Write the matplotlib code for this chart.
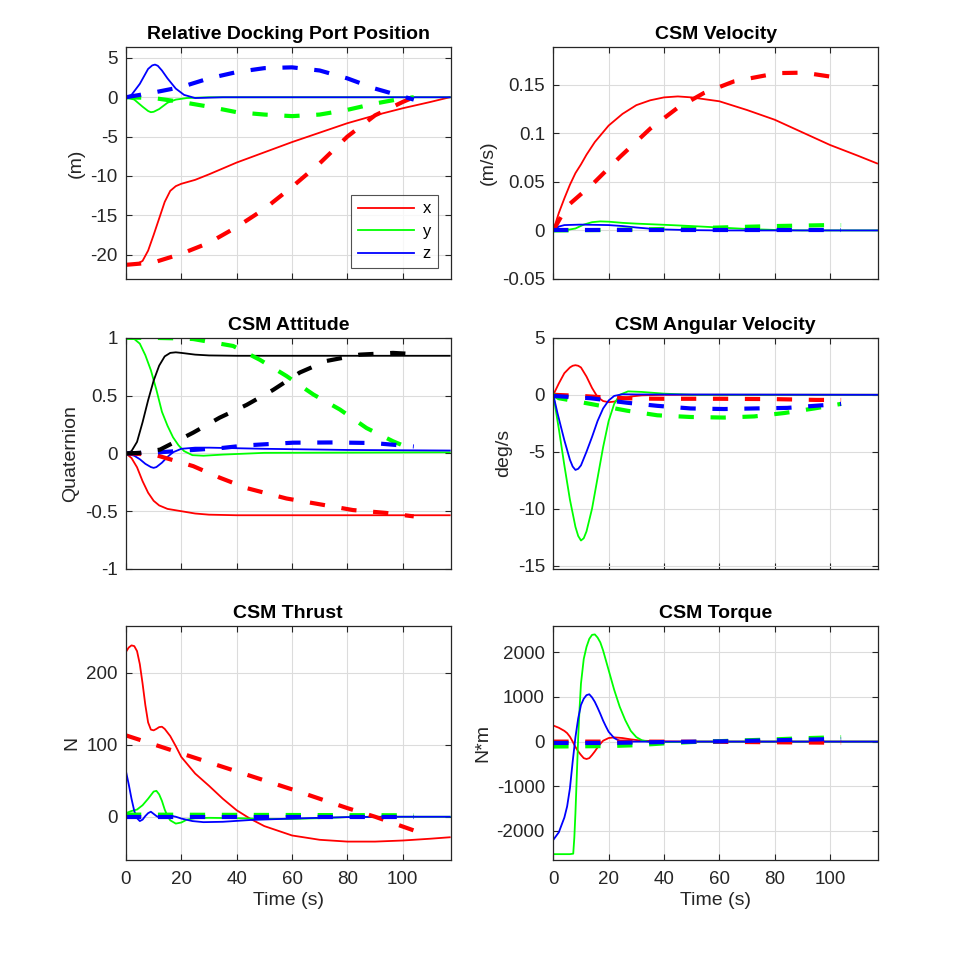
import numpy as np
import matplotlib
matplotlib.use("Agg")
import matplotlib.pyplot as plt
from matplotlib.ticker import FuncFormatter

# ---------------- data ----------------
# Relative docking port position (m)
pos_x_t = [0, 4, 6, 8, 10, 12, 14, 16, 18, 20, 25, 30, 40, 50, 60, 70, 80, 90, 100, 110, 117]
pos_x = [-21.3, -21.2, -20.8, -19.5, -17.5, -15.4, -13.3, -11.9, -11.3, -11.0, -10.5, -9.8, -8.3, -7.0, -5.7, -4.5, -3.3, -2.3, -1.4, -0.6, 0.0]
pos_y_t = [0, 3, 6, 8, 9, 10, 12, 15, 18, 22, 30, 117]
pos_y = [0, -0.3, -1.2, -1.75, -1.9, -1.85, -1.5, -0.7, -0.3, -0.1, 0, 0]
pos_z_t = [0, 2, 5, 8, 9.5, 10.5, 11.5, 13, 15, 18, 21, 25, 35, 117]
pos_z = [0, 0.3, 1.7, 3.6, 4.05, 4.15, 4.0, 3.4, 2.4, 1.1, 0.3, -0.1, 0, 0]
pos_xd_t = [0, 10, 20, 30, 40, 50, 60, 70, 80, 90, 100, 104]
pos_xd = [-21.3, -21.0, -19.9, -18.5, -16.5, -14.2, -11.4, -8.4, -5.0, -2.3, -0.6, 0.0]
pos_yd_t = [0, 10, 20, 30, 40, 50, 60, 70, 80, 90, 100, 104]
pos_yd = [0, -0.1, -0.6, -1.2, -1.9, -2.2, -2.4, -2.2, -1.6, -0.8, -0.15, 0]
pos_zd_t = [0, 10, 20, 30, 40, 50, 60, 70, 80, 90, 100, 104]
pos_zd = [0, 0.6, 1.3, 2.4, 3.2, 3.7, 3.8, 3.4, 2.4, 1.1, 0.1, -0.3]

# CSM velocity (m/s)
vel_x_t = [0, 2, 4, 6, 8, 10, 12, 15, 20, 25, 30, 35, 40, 45, 50, 60, 70, 80, 90, 100, 110, 117]
vel_x = [0, 0.018, 0.033, 0.047, 0.059, 0.068, 0.078, 0.091, 0.108, 0.120, 0.129, 0.134, 0.137, 0.138, 0.137, 0.133, 0.124, 0.114, 0.101, 0.088, 0.077, 0.069]
vel_y_t = [0, 5, 8, 11, 14, 17, 20, 25, 30, 40, 50, 60, 70, 80, 90, 117]
vel_y = [0, 0.0005, 0.002, 0.006, 0.0085, 0.0093, 0.009, 0.0078, 0.007, 0.0058, 0.0045, 0.003, 0.0015, 0.0005, 0, 0]
vel_z_t = [0, 2, 4, 10, 20, 25, 30, 35, 40, 50, 60, 117]
vel_z = [0, 0.004, 0.0055, 0.006, 0.0055, 0.0045, 0.003, 0.0018, 0.001, 0.0003, 0, 0]
vel_xd_t = [0, 4.9, 14.6, 24.2, 35.1, 44.8, 54.4, 65.3, 81, 90.6, 99.7]
vel_xd = [0, 0.0247, 0.0488, 0.076, 0.105, 0.126, 0.1415, 0.1535, 0.162, 0.1625, 0.1586]
vel_yd_t = [0, 20, 40, 60, 80, 100, 104]
vel_yd = [0, 0.0005, 0.0015, 0.003, 0.0045, 0.0055, 0.0055]
vel_zd_t = [0, 104]
vel_zd = [0, 0]

# CSM attitude quaternion
att_x_t = [0, 2, 4, 6, 8, 10, 12, 15, 20, 25, 30, 40, 117]
att_x = [0, -0.04, -0.12, -0.24, -0.34, -0.41, -0.45, -0.48, -0.50, -0.52, -0.53, -0.535, -0.535]
att_y_t = [0, 3, 5, 7, 9, 11, 13, 15, 17, 19, 21, 24, 28, 35, 50, 117]
att_y = [1, 0.99, 0.95, 0.85, 0.72, 0.55, 0.36, 0.24, 0.14, 0.07, 0.02, -0.015, -0.02, -0.01, 0.005, 0.01]
att_z_t = [0, 3, 5, 7, 9, 10, 11, 13, 15, 17, 20, 25, 30, 50, 80, 117]
att_z = [0, -0.02, -0.05, -0.09, -0.118, -0.125, -0.118, -0.08, -0.03, 0.01, 0.04, 0.05, 0.05, 0.04, 0.03, 0.025]
att_w_t = [0, 2, 4, 6, 8, 10, 12, 14, 16, 18, 20, 25, 30, 40, 117]
att_w = [0, 0.02, 0.1, 0.27, 0.46, 0.63, 0.76, 0.84, 0.87, 0.875, 0.87, 0.855, 0.848, 0.845, 0.845]
att_xd_t = [0, 10, 12.3, 24.3, 33.9, 43.6, 58, 70, 82, 94, 104]
att_xd = [0, -0.01, -0.025, -0.11, -0.21, -0.30, -0.39, -0.44, -0.49, -0.515, -0.545]
att_yd_t = [0, 10, 20, 24.3, 38.7, 48.4, 58, 67.7, 77.3, 86.9, 96.5, 104]
att_yd = [1, 1, 0.995, 0.99, 0.93, 0.81, 0.67, 0.51, 0.38, 0.22, 0.105, 0.03]
att_zd_t = [0, 12.3, 35, 43.6, 60.4, 75, 89.3, 104]
att_zd = [0, 0.01, 0.048, 0.07, 0.093, 0.095, 0.09, 0.06]
att_wd_t = [0, 5, 12.3, 24.3, 33.9, 43.6, 53.2, 62.8, 72.4, 84.5, 96.5, 104]
att_wd = [0, 0.005, 0.033, 0.18, 0.31, 0.42, 0.55, 0.70, 0.80, 0.855, 0.87, 0.86]

# CSM angular velocity (deg/s)
ang_x_t = [0, 2, 4, 6, 7, 8, 9, 10, 12, 14, 16, 18, 20, 22, 25, 28, 32, 40, 117]
ang_x = [0, 1.0, 1.9, 2.4, 2.55, 2.6, 2.55, 2.4, 1.6, 0.6, -0.2, -0.55, -0.65, -0.6, -0.35, -0.15, -0.05, 0, 0]
ang_y_t = [0, 2, 4, 6, 8, 9, 10, 11, 12, 14, 16, 18, 20, 22, 24, 27, 32, 40, 50, 117]
ang_y = [0, -3.0, -6.2, -9.2, -11.6, -12.4, -12.8, -12.6, -12.0, -10.0, -7.3, -4.6, -2.3, -0.8, 0, 0.3, 0.25, 0.1, 0, 0]
ang_z_t = [0, 1.5, 4, 6, 7, 8, 9, 10, 12, 14, 16, 18, 20, 22, 25, 30, 117]
ang_z = [0, -1.6, -4.0, -5.7, -6.3, -6.6, -6.5, -6.2, -5.0, -3.7, -2.3, -1.2, -0.5, -0.1, 0.05, 0.03, 0]
ang_xd_t = [0, 10, 20, 30, 40, 60, 80, 95, 104]
ang_xd = [0, -0.1, -0.25, -0.33, -0.35, -0.35, -0.38, -0.45, -0.45]
ang_yd_t = [0, 2, 13.4, 26.7, 37.6, 49.6, 61.7, 72.6, 83.5, 94.3, 104]
ang_yd = [0, -0.3, -0.8, -1.4, -1.8, -1.95, -2.0, -1.9, -1.6, -1.2, -0.8]
ang_zd_t = [0, 13.4, 26.7, 37.6, 49.6, 61.7, 72.6, 84.6, 95.5, 104]
ang_zd = [-0.1, -0.3, -0.7, -0.97, -1.2, -1.25, -1.2, -1.15, -0.95, -0.8]

# CSM thrust (N)
thr_x_t = [0, 1, 2, 3, 4, 5, 6, 7, 8, 9, 10, 11, 12, 13, 14, 16, 18, 20, 25, 30, 35, 40, 45, 50, 60, 70, 80, 90, 100, 110, 117]
thr_x = [229, 235, 238, 237, 230, 212, 185, 155, 131, 121, 120, 122, 124.5, 125, 122, 112, 98, 83, 60, 43, 25, 9, -3, -13, -26, -32, -34.5, -34.5, -33, -30.5, -28.5]
thr_y_t = [0, 2, 4, 6, 8, 10, 11, 12, 13, 14, 15, 16, 18, 20, 22, 25, 30, 40, 50, 60, 70, 80, 90, 117]
thr_y = [5, 8, 10, 16, 25, 35, 36, 31, 22, 10, 1, -5, -9.5, -8, -4, -2, -1.5, -2, -3, -3, -2, -0.5, 0, 0]
thr_z_t = [0, 1, 2, 3, 4, 5, 6, 7, 8, 9, 10, 11, 12, 13, 14, 16, 18, 20, 24, 28, 35, 45, 60, 80, 100, 117]
thr_z = [63, 45, 25, 8, -2, -6, -4, 1, 5, 7, 4, 1, -1, -1, 0, 1.5, 0, -2.5, -6, -7.5, -7, -4.5, -2.5, -0.5, 0, 0]
thr_xd_t = [0, 20, 40, 60, 80, 90, 104]
thr_xd = [113, 88, 63, 38, 12, 0, -19]
thr_yd_t = [0, 104]
thr_yd = [3, 2]
thr_zd_t = [0, 104]
thr_zd = [0, 0]

# CSM torque (N*m)
trq_x_t = [0, 2, 4, 5, 6, 7, 8, 9, 10, 11, 12, 13, 14, 15, 16, 17, 18, 20, 22, 25, 28, 32, 40, 50, 117]
trq_x = [360, 310, 240, 190, 110, 0, -120, -220, -300, -370, -390, -370, -300, -220, -130, -50, 20, 80, 95, 80, 50, 20, 5, 0, 0]
trq_y_t = [0, 6, 7.2, 7.6, 8, 8.5, 9, 9.5, 10, 11, 12, 13, 14, 15, 16, 17, 18, 20, 22, 24, 26, 28, 30, 32, 35, 40, 50, 117]
trq_y = [-2520, -2520, -2510, -2150, -1600, -750, 100, 750, 1300, 1850, 2120, 2300, 2390, 2400, 2330, 2220, 2040, 1600, 1160, 780, 480, 240, 100, 30, -10, -10, 0, 0]
trq_z_t = [0, 2, 4, 5, 6, 7, 8, 9, 10, 11, 12, 13, 14, 15, 16, 17, 18, 19, 20, 22, 24, 26, 117]
trq_z = [-2200, -2030, -1700, -1450, -1050, -450, 100, 520, 820, 960, 1040, 1060, 990, 890, 760, 620, 470, 340, 220, 80, 15, 0, 0]
trq_xd_t = [0, 30, 60, 80, 104]
trq_xd = [0, 0, -5, -15, -25]
trq_yd_t = [0, 20, 30, 40, 50, 60, 70, 80, 90, 104]
trq_yd = [-110, -100, -80, -40, -10, 10, 30, 50, 75, 100]
trq_zd_t = [0, 20, 30, 40, 60, 80, 104]
trq_zd = [-30, -30, -20, -10, 5, 30, 60]

# ---------------- style ----------------
plt.rcParams['font.family'] = ['Liberation Sans', 'DejaVu Sans']
plt.rcParams['axes.unicode_minus'] = False
plt.rcParams['lines.scale_dashes'] = False

RED, GREEN, BLUE, BLACK = '#ff0000', '#00ff00', '#0000ff', '#000000'
EDGE = '#262626'
SOLID_LW = 1.3
DASH_LW = 3.0
DASH = (11, 12)

fig = plt.figure(figsize=(9.69, 9.67), dpi=100)

xl, xr = 0.130, 0.571
w = 0.335
rows = [(0.7115, 0.240), (0.4116, 0.239), (0.1107, 0.242)]


def make_ax(col, row):
    x0 = xl if col == 0 else xr
    y0, h = rows[row]
    ax = fig.add_axes([x0, y0, w, h])
    ax.set_xlim(0, 117.3)
    ax.set_xticks([0, 20, 40, 60, 80, 100])
    ax.grid(True, color='#dcdcdc', linewidth=0.8)
    ax.set_axisbelow(True)
    for s in ax.spines.values():
        s.set_color(EDGE)
        s.set_linewidth(0.9)
    ax.tick_params(direction='in', length=4, width=0.8, colors=EDGE,
                   labelsize=13.5, top=True, right=True, pad=6)
    ax.tick_params(axis='x', pad=8)
    ax.yaxis.set_major_formatter(FuncFormatter(lambda v, p: '%g' % round(v, 6)))
    if row < 2:
        ax.tick_params(labelbottom=False)
    else:
        ax.set_xlabel('Time (s)', fontsize=14, color=EDGE, labelpad=3)
    return ax


def draw(ax, solids, dashes):
    lines = []
    for t, v, c in solids:
        ln, = ax.plot(t, v, color=c, linewidth=SOLID_LW)
        lines.append(ln)
    for t, v, c in dashes:
        ax.plot(t, v, color=c, linewidth=DASH_LW, linestyle=(0, DASH))
    return lines


# Relative docking port position
ax = make_ax(0, 0)
lines = draw(ax,
             [(pos_x_t, pos_x, RED), (pos_y_t, pos_y, GREEN), (pos_z_t, pos_z, BLUE)],
             [(pos_xd_t, pos_xd, RED), (pos_yd_t, pos_yd, GREEN), (pos_zd_t, pos_zd, BLUE)])
ax.set_ylim(-23.1, 6.4)
ax.set_yticks([-20, -15, -10, -5, 0, 5])
ax.set_title('Relative Docking Port Position', fontsize=14, fontweight='bold', pad=6)
ax.set_ylabel('(m)', fontsize=14, color=EDGE)
leg = ax.legend(lines, ['x', 'y', 'z'], loc='lower right', bbox_to_anchor=(0.96, 0.047),
                fontsize=12, handlelength=3.4, frameon=True, fancybox=False,
                borderpad=0.4, labelspacing=0.45, handletextpad=0.5, borderaxespad=0)
leg.get_frame().set_edgecolor(EDGE)
leg.get_frame().set_linewidth(0.8)

# CSM velocity
ax = make_ax(1, 0)
draw(ax,
     [(vel_x_t, vel_x, RED), (vel_y_t, vel_y, GREEN), (vel_z_t, vel_z, BLUE)],
     [(vel_xd_t, vel_xd, RED), (vel_yd_t, vel_yd, GREEN), (vel_zd_t, vel_zd, BLUE)])
ax.set_ylim(-0.05, 0.189)
ax.set_yticks([-0.05, 0, 0.05, 0.1, 0.15])
ax.set_title('CSM Velocity', fontsize=14, fontweight='bold', pad=6)
ax.set_ylabel('(m/s)', fontsize=14, color=EDGE)

# CSM attitude
ax = make_ax(0, 1)
draw(ax,
     [(att_x_t, att_x, RED), (att_y_t, att_y, GREEN), (att_z_t, att_z, BLUE), (att_w_t, att_w, BLACK)],
     [(att_xd_t, att_xd, RED), (att_yd_t, att_yd, GREEN), (att_zd_t, att_zd, BLUE), (att_wd_t, att_wd, BLACK)])
ax.set_ylim(-1, 1)
ax.set_yticks([-1, -0.5, 0, 0.5, 1])
ax.set_title('CSM Attitude', fontsize=14, fontweight='bold', pad=6)
ax.set_ylabel('Quaternion', fontsize=14, color=EDGE)

# CSM angular velocity
ax = make_ax(1, 1)
draw(ax,
     [(ang_x_t, ang_x, RED), (ang_y_t, ang_y, GREEN), (ang_z_t, ang_z, BLUE)],
     [(ang_xd_t, ang_xd, RED), (ang_yd_t, ang_yd, GREEN), (ang_zd_t, ang_zd, BLUE)])
ax.set_ylim(-15.3, 5)
ax.set_yticks([-15, -10, -5, 0, 5])
ax.set_title('CSM Angular Velocity', fontsize=14, fontweight='bold', pad=6)
ax.set_ylabel('deg/s', fontsize=14, color=EDGE)

# CSM thrust
ax = make_ax(0, 2)
draw(ax,
     [(thr_x_t, thr_x, RED), (thr_y_t, thr_y, GREEN), (thr_z_t, thr_z, BLUE)],
     [(thr_xd_t, thr_xd, RED), (thr_yd_t, thr_yd, GREEN), (thr_zd_t, thr_zd, BLUE)])
ax.set_ylim(-60, 265)
ax.set_yticks([0, 100, 200])
ax.set_title('CSM Thrust', fontsize=14, fontweight='bold', pad=6)
ax.set_ylabel('N', fontsize=14, color=EDGE)

# CSM torque
ax = make_ax(1, 2)
draw(ax,
     [(trq_x_t, trq_x, RED), (trq_y_t, trq_y, GREEN), (trq_z_t, trq_z, BLUE)],
     [(trq_xd_t, trq_xd, RED), (trq_yd_t, trq_yd, GREEN), (trq_zd_t, trq_zd, BLUE)])
ax.set_ylim(-2650, 2590)
ax.set_yticks([-2000, -1000, 0, 1000, 2000])
ax.set_title('CSM Torque', fontsize=14, fontweight='bold', pad=6)
ax.set_ylabel('N*m', fontsize=14, color=EDGE)

fig.savefig('out.png', dpi=100, facecolor='white')
